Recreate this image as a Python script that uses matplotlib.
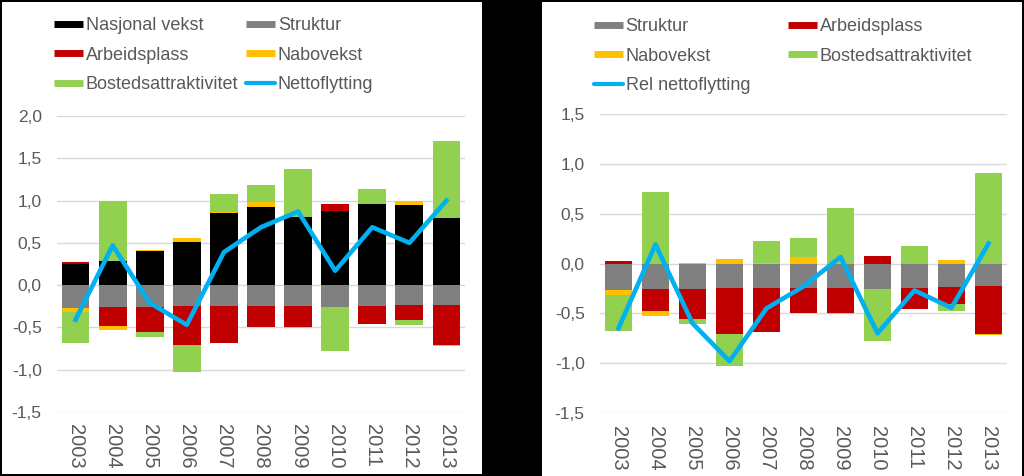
import numpy as np
import matplotlib
matplotlib.use("Agg")
import matplotlib.pyplot as plt
from matplotlib.lines import Line2D
from matplotlib.patches import Rectangle
from matplotlib.ticker import FuncFormatter

plt.rcParams['font.family'] = ['Liberation Sans', 'DejaVu Sans']

# data
years = ['2003', '2004', '2005', '2006', '2007', '2008', '2009', '2010', '2011', '2012', '2013']
nasjonal = [0.245, 0.28, 0.40, 0.51, 0.85, 0.92, 0.81, 0.88, 0.96, 0.95, 0.795]
struktur = [-0.27, -0.26, -0.26, -0.25, -0.25, -0.25, -0.25, -0.26, -0.245, -0.24, -0.23]
arbeidsplass = [0.03, -0.22, -0.295, -0.455, -0.44, -0.245, -0.25, 0.08, -0.21, -0.17, -0.48]
nabovekst = [-0.05, -0.05, 0.01, 0.05, 0.01, 0.065, -0.005, 0.0, -0.005, 0.04, -0.01]
bosted = [-0.36, 0.72, -0.055, -0.32, 0.215, 0.195, 0.56, -0.515, 0.18, -0.065, 0.91]
netto = [-0.41, 0.47, -0.21, -0.47, 0.39, 0.685, 0.87, 0.17, 0.685, 0.50, 1.0]
rel_netto = [-0.65, 0.19, -0.60, -0.98, -0.45, -0.23, 0.065, -0.70, -0.27, -0.445, 0.20]

C_BLACK = '#000000'
C_GRAY = '#808080'
C_RED = '#C00000'
C_YELLOW = '#FFC000'
C_GREEN = '#92D050'
C_LINE = '#00B0F0'
C_TEXT = '#595959'

fig = plt.figure(figsize=(10.24, 4.76), dpi=100, facecolor='black')
# white panel backgrounds
fig.patches.append(Rectangle((2 / 1024, 2 / 476), 480 / 1024, 472 / 476,
                             transform=fig.transFigure, facecolor='white',
                             edgecolor='none', zorder=-5))
fig.patches.append(Rectangle((542 / 1024, 0), 480 / 1024, 474 / 476,
                             transform=fig.transFigure, facecolor='white',
                             edgecolor='none', zorder=-5))


def stacked(ax, series):
    x = np.arange(len(years))
    pos = np.zeros(len(years))
    neg = np.zeros(len(years))
    for vals, color in series:
        v = np.array(vals)
        bottom = np.where(v >= 0, pos, neg)
        ax.bar(x, v, bottom=bottom, width=0.75, color=color, zorder=2)
        pos = pos + np.where(v >= 0, v, 0)
        neg = neg + np.where(v < 0, v, 0)


def style(ax, ymin, ymax):
    ax.set_ylim(ymin, ymax)
    ax.set_xlim(-0.5, len(years) - 0.5)
    ax.set_yticks(np.arange(ymin, ymax + 0.01, 0.5))
    ax.yaxis.set_major_formatter(FuncFormatter(lambda v, p: f"{v:.1f}".replace('.', ',')))
    ax.set_xticks(np.arange(len(years)))
    ax.set_xticklabels(years, rotation=-90)
    ax.grid(axis='y', color='#D9D9D9', linewidth=1, zorder=0)
    ax.set_axisbelow(True)
    for s in ax.spines.values():
        s.set_visible(False)
    ax.tick_params(axis='both', length=0, colors=C_TEXT)
    ax.tick_params(axis='y', pad=11, labelsize=12.5)
    ax.tick_params(axis='x', pad=9, labelsize=14.5)
    ax.set_facecolor('none')


def bar_handle(color):
    return Line2D([], [], color=color, linewidth=5, solid_capstyle='butt')


line_handle = lambda: Line2D([], [], color=C_LINE, linewidth=3, solid_capstyle='round')

# left panel
ax1 = fig.add_axes([57 / 1024, 64 / 476, 408 / 1024, 296 / 476])
stacked(ax1, [(nasjonal, C_BLACK), (struktur, C_GRAY), (arbeidsplass, C_RED),
              (nabovekst, C_YELLOW), (bosted, C_GREEN)])
ax1.plot(np.arange(len(years)), netto, color=C_LINE, linewidth=3.3, zorder=3)
style(ax1, -1.5, 2.0)
h1 = [bar_handle(C_BLACK), bar_handle(C_RED), bar_handle(C_GREEN),
      bar_handle(C_GRAY), bar_handle(C_YELLOW), line_handle()]
l1 = ['Nasjonal vekst', 'Arbeidsplass', 'Bostedsattraktivitet',
      'Struktur', 'Nabovekst', 'Nettoflytting']
fig.legend(h1, l1, ncol=2, loc='upper left', bbox_to_anchor=(54 / 1024, 1 - 17 / 476),
           frameon=False, fontsize=13, handlelength=1.6, handletextpad=0.15,
           columnspacing=0.45, labelspacing=0.7, borderpad=0, borderaxespad=0,
           labelcolor=C_TEXT)

# right panel
ax2 = fig.add_axes([600 / 1024, 63 / 476, 407 / 1024, 299 / 476])
stacked(ax2, [(struktur, C_GRAY), (arbeidsplass, C_RED),
              (nabovekst, C_YELLOW), (bosted, C_GREEN)])
ax2.plot(np.arange(len(years)), rel_netto, color=C_LINE, linewidth=3.3, zorder=3)
style(ax2, -1.5, 1.5)
h2 = [bar_handle(C_GRAY), bar_handle(C_YELLOW), line_handle(),
      bar_handle(C_RED), bar_handle(C_GREEN)]
l2 = ['Struktur', 'Nabovekst', 'Rel nettoflytting', 'Arbeidsplass', 'Bostedsattraktivitet']
fig.legend(h2, l2, ncol=2, loc='upper left', bbox_to_anchor=(594 / 1024, 1 - 18 / 476),
           frameon=False, fontsize=13, handlelength=1.6, handletextpad=0.15,
           columnspacing=2.1, labelspacing=0.7, borderpad=0, borderaxespad=0,
           labelcolor=C_TEXT)

fig.savefig('out.png', dpi=100, facecolor='black')
